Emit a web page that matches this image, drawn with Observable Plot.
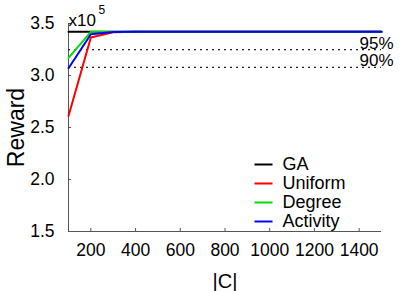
<!DOCTYPE html>
<html>
<head>
<meta charset="utf-8">
<script src="https://cdn.jsdelivr.net/npm/d3@7"></script>
<script src="https://cdn.jsdelivr.net/npm/@observablehq/plot@0.6"></script>
<style>
  html, body { margin: 0; padding: 0; background: #fff; }
  svg { font-family: "Liberation Sans", Arial, Helvetica, sans-serif; }
</style>
</head>
<body>
<div id="chart"></div>
<script>
// |C| values
const sizes = [100, 200, 300, 400, 500, 600, 700, 800, 900, 1000, 1100, 1200, 1300, 1400, 1500];
// Reward (x10^5)
const gaReward       = [3.42, 3.42, 3.42, 3.42, 3.42, 3.42, 3.42, 3.42, 3.42, 3.42, 3.42, 3.42, 3.42, 3.42, 3.42];
const uniformReward  = [2.61, 3.365, 3.415, 3.42, 3.42, 3.42, 3.42, 3.42, 3.42, 3.42, 3.42, 3.42, 3.42, 3.42, 3.42];
const degreeReward   = [3.17, 3.42, 3.42, 3.42, 3.42, 3.42, 3.42, 3.42, 3.42, 3.42, 3.42, 3.42, 3.42, 3.42, 3.42];
const activityReward = [3.07, 3.397, 3.418, 3.42, 3.42, 3.42, 3.42, 3.42, 3.42, 3.42, 3.42, 3.42, 3.42, 3.42, 3.42];
const seriesNames = ["GA", "Uniform", "Degree", "Activity"];
const seriesColors = ["#000000", "#ff0000", "#00e000", "#0000ff"];
const xTicks = [200, 400, 600, 800, 1000, 1200, 1400];
const yTicks = [1.5, 2.0, 2.5, 3.0, 3.5];
const thresholdPct = [95, 90];

const allSeries = [gaReward, uniformReward, degreeReward, activityReward];
const rows = [];
allSeries.forEach((vals, s) => vals.forEach((v, i) => rows.push({series: seriesNames[s], x: sizes[i], y: v})));
const gaMax = d3.max(gaReward);
const thresholds = thresholdPct.map(p => ({p, y: gaMax * p / 100, label: p + "%"}));

const font = 17.5;
const marks = [
  // axis lines
  Plot.ruleX([sizes[0]], {stroke: "#555", strokeWidth: 1}),
  Plot.ruleY([yTicks[0]], {stroke: "#555", strokeWidth: 1}),
  // inward ticks
  Plot.ruleX(xTicks, {y1: yTicks[0], y2: yTicks[0], insetTop: -3, stroke: "#555"}),
  Plot.ruleY(yTicks, {x1: sizes[0], x2: sizes[0], insetRight: -3, stroke: "#555"}),
  Plot.axisX({ticks: xTicks, tickSize: 0, tickPadding: 12, fontSize: font, tickFormat: d3.format("d"), label: null, fill: "#000"}),
  Plot.axisY({ticks: yTicks, tickSize: 0, tickPadding: 14, fontSize: font, tickFormat: d3.format(".1f"), label: null, fill: "#000"}),
  // threshold dotted lines
  Plot.ruleY(thresholds, {y: "y", stroke: "#222", strokeWidth: 1.2, strokeDasharray: "2,4"}),
  Plot.text(thresholds, {x: sizes[sizes.length - 1], y: "y", text: "label", textAnchor: "start", lineAnchor: "bottom", dx: -22, dy: -1, fontSize: 17, fill: "#000"}),
  // series lines
  ...seriesNames.map((name, s) => Plot.line(rows.filter(r => r.series === name), {x: "x", y: "y", stroke: seriesColors[s], strokeWidth: 2})),
  // legend
  ...seriesNames.map((name, i) => Plot.frame({fill: seriesColors[i], stroke: null, insetLeft: 186, insetRight: 109, insetTop: 140 + i * 19, insetBottom: 66 - i * 19})),
  ...seriesNames.map((name, i) => Plot.text([name], {frameAnchor: "top-left", dx: 214, dy: 141 + i * 19, textAnchor: "start", lineAnchor: "middle", fontSize: 18, fill: "#000"})),
  // exponent label
  Plot.text(["x10"], {frameAnchor: "top-left", dx: 0, dy: 2, textAnchor: "start", lineAnchor: "bottom", fontSize: 17, fill: "#000"}),
  Plot.text(["5"], {frameAnchor: "top-left", dx: 30, dy: -10, textAnchor: "start", lineAnchor: "bottom", fontSize: 12, fill: "#000"}),
  // axis titles
  Plot.text(["Reward"], {frameAnchor: "left", dx: -52, rotate: -90, textAnchor: "middle", lineAnchor: "middle", fontSize: 23, fill: "#000"}),
  Plot.text(["|C|"], {frameAnchor: "bottom", dy: 50, textAnchor: "middle", lineAnchor: "middle", fontSize: 20, fill: "#000"})
];

const chart = Plot.plot({
  width: 415,
  height: 291,
  marginLeft: 68,
  marginRight: 34,
  marginTop: 23,
  marginBottom: 60,
  style: {background: "#fff", fontFamily: "'Liberation Sans', Arial, Helvetica, sans-serif", overflow: "visible"},
  x: {domain: [sizes[0], sizes[sizes.length - 1]], axis: null},
  y: {domain: [yTicks[0], yTicks[yTicks.length - 1]], axis: null},
  marks
});
document.getElementById("chart").appendChild(chart);
</script>
</body>
</html>
